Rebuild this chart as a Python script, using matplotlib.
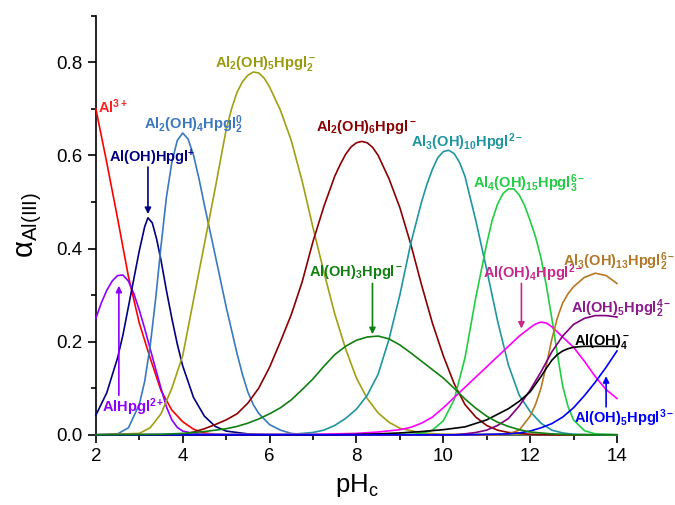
import numpy as np
import matplotlib
matplotlib.use("Agg")
import matplotlib.pyplot as plt
from matplotlib.ticker import MultipleLocator

plt.rcParams['font.family'] = ['Liberation Sans', 'DejaVu Sans']
plt.rcParams['mathtext.fontset'] = 'custom'
plt.rcParams['mathtext.rm'] = 'Liberation Sans'
plt.rcParams['mathtext.bf'] = 'Liberation Sans:bold'
plt.rcParams['mathtext.it'] = 'Liberation Sans:italic'

# species fractions (pH points, alpha values)
ph_al3 = [2.0, 2.25, 2.5, 2.75, 3.0, 3.25, 3.5, 3.75, 4.0, 4.25, 4.5, 4.75, 5.0, 14.0]
al3 = [0.700, 0.585, 0.465, 0.340, 0.240, 0.165, 0.095, 0.053, 0.028, 0.012, 0.004, 0.001, 0, 0]

ph_alhpgl = [2.0, 2.125, 2.25, 2.375, 2.5, 2.625, 2.75, 2.875, 3.0, 3.125, 3.25, 3.375, 3.5,
             3.625, 3.75, 3.875, 4.0, 4.25, 4.5, 5.0, 14.0]
alhpgl = [0.250, 0.283, 0.310, 0.330, 0.342, 0.343, 0.330, 0.303, 0.268, 0.228, 0.185, 0.142,
          0.100, 0.060, 0.032, 0.016, 0.008, 0.003, 0.001, 0, 0]

ph_aloh_hpgl = [2.0, 2.25, 2.5, 2.625, 2.75, 2.875, 3.0, 3.125, 3.2, 3.3, 3.4, 3.5, 3.625, 3.75,
                3.875, 4.0, 4.25, 4.5, 4.75, 5.0, 5.5, 6.0, 14.0]
aloh_hpgl = [0.042, 0.090, 0.165, 0.215, 0.275, 0.335, 0.395, 0.447, 0.466, 0.455, 0.420, 0.375,
             0.310, 0.250, 0.195, 0.148, 0.080, 0.040, 0.018, 0.008, 0.002, 0, 0]

ph_al2oh4 = [2.0, 2.5, 2.75, 3.0, 3.125, 3.25, 3.375, 3.5, 3.625, 3.75, 3.875, 4.0, 4.125, 4.25,
             4.375, 4.5, 4.75, 5.0, 5.25, 5.375, 5.5, 5.625, 5.75, 6.0, 6.25, 6.5, 6.75, 7.0, 14.0]
al2oh4 = [0, 0.002, 0.015, 0.065, 0.115, 0.190, 0.290, 0.405, 0.510, 0.585, 0.632, 0.648, 0.635,
          0.600, 0.550, 0.493, 0.385, 0.275, 0.175, 0.130, 0.092, 0.065, 0.046, 0.022, 0.010,
          0.003, 0.001, 0, 0]

ph_al2oh5 = [2.0, 3.0, 3.25, 3.5, 3.75, 4.0, 4.25, 4.5, 4.75, 5.0, 5.125, 5.25, 5.375, 5.5, 5.625,
             5.75, 5.875, 6.0, 6.25, 6.5, 6.75, 7.0, 7.25, 7.5, 7.75, 8.0, 8.25, 8.5, 8.75, 9.0,
             9.5, 10.0, 14.0]
al2oh5 = [0, 0.003, 0.015, 0.045, 0.100, 0.170, 0.290, 0.410, 0.530, 0.655, 0.700, 0.735, 0.758,
          0.772, 0.779, 0.777, 0.766, 0.747, 0.697, 0.632, 0.545, 0.445, 0.350, 0.260, 0.185,
          0.122, 0.078, 0.047, 0.027, 0.014, 0.004, 0.001, 0]

ph_al2oh6 = [2.0, 3.75, 4.0, 4.25, 4.5, 4.75, 5.0, 5.25, 5.5, 5.75, 6.0, 6.25, 6.5, 6.75, 7.0,
             7.25, 7.5, 7.625, 7.75, 7.875, 8.0, 8.125, 8.25, 8.375, 8.5, 8.75, 9.0, 9.25, 9.5,
             9.75, 10.0, 10.25, 10.5, 10.75, 11.0, 11.25, 11.5, 12.0, 12.5, 14.0]
al2oh6 = [0, 0, 0.001, 0.006, 0.013, 0.022, 0.032, 0.045, 0.068, 0.100, 0.145, 0.200, 0.258,
          0.328, 0.415, 0.490, 0.555, 0.580, 0.602, 0.618, 0.627, 0.630, 0.627, 0.617, 0.600,
          0.550, 0.488, 0.410, 0.322, 0.240, 0.170, 0.110, 0.065, 0.038, 0.020, 0.010, 0.005,
          0.001, 0, 0]

ph_al3oh10 = [2.0, 6.5, 6.75, 7.0, 7.25, 7.5, 7.75, 8.0, 8.25, 8.5, 8.75, 9.0, 9.25, 9.5, 9.625,
              9.75, 9.875, 10.0, 10.125, 10.25, 10.375, 10.5, 10.75, 11.0, 11.25, 11.5, 11.75,
              12.0, 12.25, 12.5, 12.75, 13.0, 13.5, 14.0]
al3oh10 = [0, 0.001, 0.003, 0.005, 0.010, 0.020, 0.035, 0.055, 0.085, 0.130, 0.205, 0.300, 0.410,
           0.500, 0.538, 0.570, 0.595, 0.608, 0.611, 0.604, 0.585, 0.555, 0.460, 0.355, 0.245,
           0.150, 0.085, 0.050, 0.025, 0.010, 0.004, 0.001, 0, 0]

ph_al4oh15 = [2.0, 9.25, 9.5, 9.75, 10.0, 10.25, 10.5, 10.75, 11.0, 11.125, 11.25, 11.375, 11.5,
              11.625, 11.75, 11.875, 12.0, 12.125, 12.25, 12.375, 12.5, 12.625, 12.75, 12.875,
              13.0, 13.25, 13.5, 14.0]
al4oh15 = [0, 0.001, 0.003, 0.010, 0.030, 0.075, 0.165, 0.295, 0.410, 0.460, 0.495, 0.518, 0.528,
           0.528, 0.515, 0.492, 0.460, 0.425, 0.380, 0.320, 0.250, 0.175, 0.105, 0.060, 0.032,
           0.009, 0.002, 0]

ph_aloh3 = [2.0, 3.5, 3.75, 4.0, 4.25, 4.5, 4.75, 5.0, 5.25, 5.5, 5.75, 6.0, 6.25, 6.5, 6.75,
            7.0, 7.25, 7.5, 7.75, 8.0, 8.25, 8.5, 8.75, 9.0, 9.25, 9.5, 9.75, 10.0, 10.25, 10.5,
            10.75, 11.0, 11.25, 11.5, 11.75, 12.0, 12.5, 13.0, 14.0]
aloh3 = [0, 0.001, 0.002, 0.003, 0.005, 0.007, 0.010, 0.013, 0.018, 0.025, 0.034, 0.045, 0.058,
         0.075, 0.097, 0.120, 0.147, 0.172, 0.190, 0.203, 0.210, 0.212, 0.206, 0.193, 0.176,
         0.158, 0.140, 0.122, 0.100, 0.077, 0.057, 0.040, 0.027, 0.018, 0.011, 0.006, 0.002, 0, 0]

ph_aloh4hpgl = [2.0, 7.0, 7.5, 8.0, 8.5, 9.0, 9.25, 9.5, 9.75, 10.0, 10.25, 10.5, 10.75, 11.0,
                11.25, 11.5, 11.75, 12.0, 12.125, 12.25, 12.375, 12.5, 12.75, 13.0, 13.25, 13.5,
                13.75, 14.0]
aloh4hpgl = [0, 0.001, 0.002, 0.003, 0.006, 0.011, 0.016, 0.025, 0.038, 0.058, 0.080, 0.102,
             0.124, 0.146, 0.168, 0.190, 0.212, 0.230, 0.238, 0.242, 0.240, 0.232, 0.210, 0.188,
             0.158, 0.125, 0.097, 0.078]

ph_al3oh13 = [2.0, 11.25, 11.5, 11.75, 12.0, 12.125, 12.25, 12.375, 12.5, 12.625, 12.75, 12.875,
              13.0, 13.25, 13.5, 13.75, 14.0]
al3oh13 = [0, 0, 0.002, 0.010, 0.040, 0.065, 0.100, 0.150, 0.205, 0.250, 0.283, 0.303, 0.318,
           0.338, 0.347, 0.342, 0.325]

ph_aloh5hpgl2 = [2.0, 10.25, 10.5, 10.75, 11.0, 11.25, 11.5, 11.75, 12.0, 12.25, 12.5, 12.75,
                 13.0, 13.25, 13.5, 13.75, 14.0]
aloh5hpgl2 = [0, 0, 0.002, 0.005, 0.010, 0.020, 0.035, 0.062, 0.096, 0.135, 0.178, 0.212, 0.237,
              0.250, 0.256, 0.256, 0.253]

ph_aloh4 = [2.0, 7.5, 8.0, 8.5, 9.0, 9.5, 10.0, 10.5, 11.0, 11.25, 11.5, 11.75, 12.0, 12.25,
            12.375, 12.5, 12.625, 12.75, 12.875, 13.0, 13.25, 13.5, 14.0]
aloh4 = [0, 0, 0.001, 0.002, 0.004, 0.007, 0.011, 0.017, 0.032, 0.044, 0.056, 0.072, 0.092,
         0.125, 0.143, 0.160, 0.172, 0.180, 0.185, 0.188, 0.190, 0.190, 0.190]

ph_aloh5hpgl = [2.0, 10.5, 11.0, 11.5, 11.75, 12.0, 12.25, 12.5, 12.75, 13.0, 13.25, 13.5, 13.75,
                14.0]
aloh5hpgl = [0, 0, 0.001, 0.002, 0.004, 0.008, 0.015, 0.024, 0.038, 0.058, 0.084, 0.113, 0.145,
             0.180]

# (x, y, line colour, label, label colour, label pos, ha, arrow tail, arrow tip)
species = [
    (ph_al3, al3, '#FF0000', r'$\mathbf{Al^{3+}}$', '#FF2020', (2.06, 0.705), 'left', None, None),
    (ph_alhpgl, alhpgl, '#8F00FF', r'$\mathbf{AlHpgl^{2+}}$', '#8F00FF', (2.15, 0.06), 'left',
     (2.53, 0.085), (2.53, 0.32)),
    (ph_aloh_hpgl, aloh_hpgl, '#000080', r'$\mathbf{Al(OH)Hpgl^{+}}$', '#000080', (3.3, 0.594),
     'center', (3.2, 0.575), (3.2, 0.474)),
    (ph_al2oh4, al2oh4, '#3A78C0', r'$\mathbf{Al_2(OH)_4Hpgl_2^0}$', '#3A78C0', (4.25, 0.665),
     'center', None, None),
    (ph_al2oh5, al2oh5, '#A0A010', r'$\mathbf{Al_2(OH)_5Hpgl_2^-}$', '#9A9A10', (5.9, 0.797),
     'center', None, None),
    (ph_al2oh6, al2oh6, '#8B0000', r'$\mathbf{Al_2(OH)_6Hpgl^-}$', '#8B0000', (8.22, 0.66),
     'center', None, None),
    (ph_al3oh10, al3oh10, '#1E96A0', r'$\mathbf{Al_3(OH)_{10}Hpgl^{2-}}$', '#1E96A0',
     (10.55, 0.628), 'center', None, None),
    (ph_al4oh15, al4oh15, '#22CC44', r'$\mathbf{Al_4(OH)_{15}Hpgl_3^{6-}}$', '#22CC44',
     (11.97, 0.54), 'center', None, None),
    (ph_aloh4hpgl, aloh4hpgl, '#FF00FF', r'$\mathbf{Al(OH)_4Hpgl^{2-}}$', '#C8288C',
     (12.06, 0.347), 'center', (11.8, 0.325), (11.8, 0.228)),
    (ph_al3oh13, al3oh13, '#B87820', r'$\mathbf{Al_3(OH)_{13}Hpgl_2^{6-}}$', '#B07828',
     (14.05, 0.372), 'center', None, None),
    (ph_aloh5hpgl2, aloh5hpgl2, '#800080', r'$\mathbf{Al(OH)_5Hpgl_2^{4-}}$', '#8B1A8B',
     (14.1, 0.27), 'center', None, None),
    (ph_aloh4, aloh4, '#000000', r'$\mathbf{Al(OH)_4^-}$', '#000000', (13.65, 0.2), 'center',
     None, None),
    (ph_aloh5hpgl, aloh5hpgl, '#0000FF', r'$\mathbf{Al(OH)_5Hpgl^{3-}}$', '#0000FF',
     (14.17, 0.036), 'center', (13.75, 0.06), (13.75, 0.126)),
    (ph_aloh3, aloh3, '#108010', r'$\mathbf{Al(OH)_3Hpgl^-}$', '#108010', (8.0, 0.349), 'center',
     (8.37, 0.325), (8.37, 0.216)),
]

fig = plt.figure(figsize=(6.75, 5.05), dpi=100)
ax = fig.add_axes([0.142, 0.139, 0.772, 0.830])

for x, y, col, lab, lcol, pos, ha, tail, tip in species:
    ax.plot(x, y, color=col, lw=1.2, zorder=3, clip_on=False)
    ax.text(pos[0], pos[1], lab, color=lcol, fontsize=10.5, ha=ha, va='center', zorder=5)
    if tail is not None:
        ax.annotate('', xy=tip, xytext=tail, zorder=5,
                    arrowprops=dict(arrowstyle='-|>', color=lcol, lw=1.2,
                                    mutation_scale=9, shrinkA=0, shrinkB=0))

ax.set_xlim(2, 14)
ax.set_ylim(0, 0.9)
ax.xaxis.set_major_locator(MultipleLocator(2))
ax.xaxis.set_minor_locator(MultipleLocator(1))
ax.yaxis.set_minor_locator(MultipleLocator(0.1))
ax.set_yticks([0.0, 0.2, 0.4, 0.6, 0.8])
ax.set_yticklabels(['0.0', '0.2', '0.4', '0.6', '0.8'])
ax.tick_params(which='major', direction='out', length=6, width=1.2, labelsize=13.5)
ax.tick_params(which='minor', direction='out', length=3.5, width=1.2)
for s in ['top', 'right']:
    ax.spines[s].set_visible(False)
for s in ['left', 'bottom']:
    ax.spines[s].set_linewidth(1.2)

ax.set_xlabel(r'$\mathrm{pH_c}$', fontsize=18.5, labelpad=5)
ax.set_ylabel(r'$\mathrm{\alpha_{Al(III)}}$', fontsize=21, labelpad=9)

fig.savefig('out.png', dpi=100)
